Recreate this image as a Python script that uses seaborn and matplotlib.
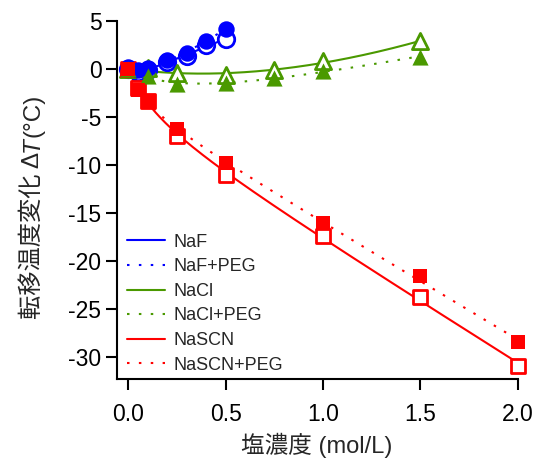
import numpy as np
import pandas as pd
import seaborn as sns
import matplotlib.pyplot as plt

# concentrations (mol/L) and transition temperature changes (°C)
naf_conc = [0, 0.05, 0.1, 0.2, 0.3, 0.4, 0.5]
naf_dt = [0, -0.3, -0.1, 0.75, 1.4, 2.45, 3.1]
naf_peg_dt = [0.2, -0.1, 0.1, 0.95, 1.7, 2.9, 4.2]

nacl_conc = [0, 0.1, 0.25, 0.5, 0.75, 1.0, 1.5]
nacl_dt = [0, 0.1, -0.4, -0.6, -0.15, 0.8, 2.9]
nacl_peg_dt = [0, -0.7, -1.6, -1.45, -0.95, -0.25, 1.3]

nascn_conc = [0, 0.05, 0.1, 0.25, 0.5, 1.0, 1.5, 2.0]
nascn_dt = [0, -2.0, -3.3, -7.0, -11.0, -17.4, -23.8, -30.9]
nascn_peg_dt = [0, -2.2, -3.4, -6.3, -9.8, -16.0, -21.6, -28.5]

x_ticks = [0, 0.5, 1.0, 1.5, 2.0]
y_ticks = [5, 0, -5, -10, -15, -20, -25, -30]

BLUE = "#0000ff"
GREEN = "#4a9900"
RED = "#ff0000"


def fit_curve(x, y):
    # dT = c*x + B*K*x/(1+K*x), K by simple grid search
    x = np.asarray(x, float)
    y = np.asarray(y, float)
    best = None
    for k in np.logspace(-1, 2.5, 400):
        A = np.column_stack([x, k * x / (1 + k * x)])
        coef, *_ = np.linalg.lstsq(A, y, rcond=None)
        err = np.sum((A @ coef - y) ** 2)
        if best is None or err < best[0]:
            best = (err, k, coef)
    _, k, (c, b) = best
    xs = np.linspace(0, x.max(), 200)
    return xs, c * xs + b * k * xs / (1 + k * xs)


sns.set_style("ticks")
plt.rcParams['font.family'] = ['Liberation Sans', 'Noto Sans CJK JP']

fig = plt.figure(figsize=(5.37, 4.61), dpi=100)
ax = fig.add_axes([0.2173, 0.178, 0.7464, 0.7764])

series = [
    ("NaF", naf_conc, naf_dt, BLUE, "o", False),
    ("NaF+PEG", naf_conc, naf_peg_dt, BLUE, "o", True),
    ("NaCl", nacl_conc, nacl_dt, GREEN, "^", False),
    ("NaCl+PEG", nacl_conc, nacl_peg_dt, GREEN, "^", True),
    ("NaSCN", nascn_conc, nascn_dt, RED, "s", False),
    ("NaSCN+PEG", nascn_conc, nascn_peg_dt, RED, "s", True),
]

sizes = {"o": 140, "^": 135, "s": 115}

for name, xc, yc, col, mk, peg in series:
    xs, ys = fit_curve(xc, yc)
    ls = (0, (1.2, 4.5)) if peg else "-"
    sns.lineplot(x=xs, y=ys, ax=ax, color=col, lw=1.5, linestyle=ls,
                 estimator=None, label=name, zorder=2)

# open markers first (no PEG), filled markers on top (PEG)
for name, xc, yc, col, mk, peg in sorted(series, key=lambda s: s[5]):
    if peg:
        sns.scatterplot(x=xc, y=yc, ax=ax, marker=mk, s=sizes[mk], color=col,
                        edgecolor=col, linewidth=0, legend=False, zorder=4,
                        clip_on=False)
    else:
        sns.scatterplot(x=xc, y=yc, ax=ax, marker=mk, s=sizes[mk], color=col,
                        facecolor="white", edgecolor=col, linewidth=2,
                        legend=False, zorder=3, clip_on=False)

ax.set_xlim(-0.06, 2.0)
ax.set_ylim(-32.3, 5)
ax.set_xticks(x_ticks)
ax.set_xticklabels([f"{t:.1f}" for t in x_ticks])
ax.set_yticks(y_ticks)
ax.set_yticklabels([str(t) for t in y_ticks])

for side in ["top", "right"]:
    ax.spines[side].set_visible(False)
for side in ["left", "bottom"]:
    ax.spines[side].set_linewidth(1.5)
    ax.spines[side].set_color("black")
ax.tick_params(axis="both", length=8, width=1.5, labelsize=16.5, colors="black")
ax.tick_params(axis="x", pad=9)
ax.tick_params(axis="y", pad=3)

ax.set_xlabel("塩濃度 (mol/L)", fontsize=17, labelpad=5)
ax.set_ylabel("")

ax.legend(loc="lower left", bbox_to_anchor=(0.025, 0.015), frameon=False,
          fontsize=13, handlelength=2.1, handletextpad=0.5, labelspacing=0.42,
          borderpad=0, borderaxespad=0)

# y label built from pieces so the T can be italic (rotated, reading upward)
fig.canvas.draw()
renderer = fig.canvas.get_renderer()
label_parts = [("転移温度変化 Δ", "normal"), ("T", "italic"), ("(°C)", "normal")]
x_base = 39 / 537
y_pos = 1 - 319 / 461
for txt, style in label_parts:
    t = fig.text(x_base, y_pos, txt, rotation=90, rotation_mode="anchor",
                 ha="left", va="baseline", fontsize=17.5, fontstyle=style)
    ext = t.get_window_extent(renderer)
    y_pos += ext.height / fig.bbox.height

fig.savefig("out.png", dpi=100)
